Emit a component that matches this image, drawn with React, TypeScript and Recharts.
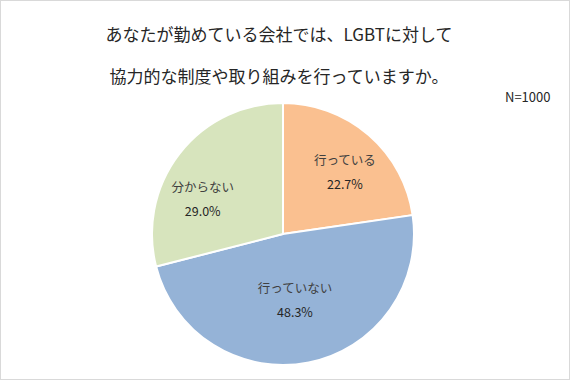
import React from 'react';
import { PieChart, Pie, Cell } from 'recharts';

const categories = ['行っている', '行っていない', '分からない'];
const values = [22.7, 48.3, 29.0];
const colors = ['#FAC090', '#95B3D7', '#D7E4BD'];
const titleLines = ['あなたが勤めている会社では、LGBTに対して', '協力的な制度や取り組みを行っていますか。'];
const sampleNote = 'N=1000';
const labelRadiusFactors = [0.67, 0.51, 0.67];
const labelAngleOffsets = [-4, -1, 14];

const data = categories.map((name, i) => ({ name, value: values[i] }));

const FONT = '"Noto Sans CJK JP", "Noto Sans", sans-serif';
const RAD = Math.PI / 180;

const renderLabel = (props: any) => {
  const { cx, cy, midAngle, outerRadius, index, name, value } = props;
  const r = outerRadius * labelRadiusFactors[index];
  const a = midAngle + labelAngleOffsets[index];
  const x = cx + r * Math.cos(-a * RAD);
  const y = cy + r * Math.sin(-a * RAD);
  return (
    <g>
      <text x={x} y={y - 12} textAnchor="middle" dominantBaseline="central" fill="#404040" fontSize={12.5} fontFamily={FONT}>
        {name}
      </text>
      <text x={x} y={y + 12} textAnchor="middle" dominantBaseline="central" fill="#262626" fontSize={12.5} fontFamily={FONT}>
        {value.toFixed(1) + '%'}
      </text>
    </g>
  );
};

export default function App() {
  return (
    <div style={{ position: 'absolute', left: 0, top: 0, width: 570, height: 381, background: '#fff', fontFamily: FONT }}>
      <div style={{ position: 'absolute', left: 0, top: 0, width: 568, height: 378, border: '1px solid #D9D9D9' }} />
      {titleLines.map((t, i) => (
        <div key={i} style={{ position: 'absolute', left: 0, width: 558, top: 21 + i * 42, height: 26, lineHeight: '26px', textAlign: 'center', fontSize: 17, color: '#262626' }}>
          {t}
        </div>
      ))}
      <div style={{ position: 'absolute', left: 505, top: 89, fontSize: 13, lineHeight: '16px', color: '#262626' }}>{sampleNote}</div>
      <div style={{ position: 'absolute', left: 0, top: 0 }}>
        <PieChart width={570} height={381} margin={{ top: 0, right: 0, bottom: 0, left: 0 }}>
          <Pie
            data={data}
            dataKey="value"
            nameKey="name"
            cx={283}
            cy={234}
            outerRadius={131}
            startAngle={90}
            endAngle={-270}
            stroke="#FFFFFF"
            strokeWidth={2}
            labelLine={false}
            label={renderLabel}
            isAnimationActive={false}
          >
            {data.map((d, i) => (
              <Cell key={d.name} fill={colors[i]} />
            ))}
          </Pie>
        </PieChart>
      </div>
    </div>
  );
}
